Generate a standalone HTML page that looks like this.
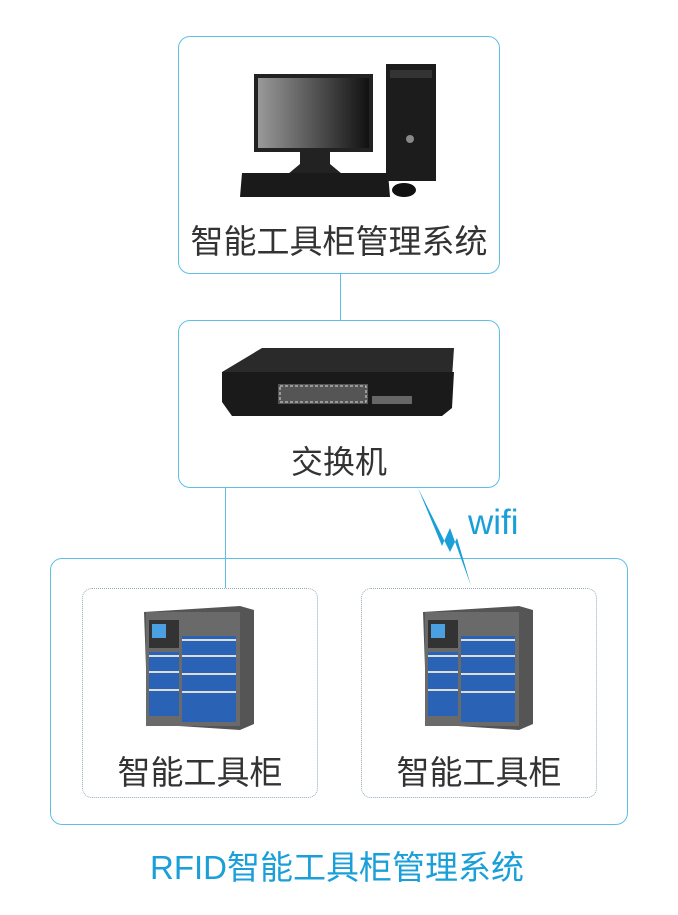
<!DOCTYPE html>
<html><head><meta charset="utf-8"><style>
body{margin:0;width:678px;height:915px;background:#fff;position:relative;overflow:hidden;font-family:"Liberation Sans","Noto Sans CJK SC",sans-serif}
.b{position:absolute;border:1px solid #5cc0e6;border-radius:12px;box-sizing:border-box}
.d{position:absolute;border:1px dotted #9ab;border-radius:10px;box-sizing:border-box}
.t{position:absolute;color:#333;text-align:center;white-space:nowrap}
.l{position:absolute;background:#5cc0e6}
</style></head><body>
<div class="b" style="left:178px;top:36px;width:322px;height:238px"></div>
<div class="l" style="left:340px;top:274px;width:1px;height:46px"></div>
<div class="b" style="left:178px;top:320px;width:322px;height:168px"></div>
<div class="l" style="left:225px;top:488px;width:1px;height:100px"></div>
<div class="b" style="left:50px;top:558px;width:578px;height:267px"></div>
<div class="d" style="left:82px;top:588px;width:236px;height:210px"></div>
<div class="d" style="left:361px;top:588px;width:236px;height:210px"></div>

<svg style="position:absolute;left:0;top:0" width="678" height="915">
<defs><linearGradient id="g" x1="0" x2="1"><stop offset="0" stop-color="#999"/><stop offset="1" stop-color="#111"/></linearGradient></defs>
<rect x="254" y="74" width="119" height="78" fill="#222"/>
<rect x="258" y="78" width="111" height="70" fill="url(#g)"/>
<path d="M300 152h30v12l12 10h-54l12-10z" fill="#222"/>
<path d="M242 173h146l2 24h-150z" fill="#1a1a1a"/>
<rect x="386" y="64" width="50" height="117" fill="#1c1c1c"/>
<rect x="390" y="70" width="42" height="8" fill="#333"/>
<circle cx="410" cy="139" r="4" fill="#888"/>
<ellipse cx="404" cy="190" rx="12" ry="7" fill="#111"/>
<!-- switch -->
<path d="M222 372l40-24h192l-2 30H222z" fill="#2a2a2a"/>
<path d="M222 372h232l-2 36-10 8H232l-10-14z" fill="#1a1a1a"/>
<rect x="278" y="384" width="90" height="20" fill="#555"/>
<rect x="280" y="386" width="86" height="16" fill="none" stroke="#ddd" stroke-dasharray="3 2"/>
<rect x="372" y="396" width="40" height="8" fill="#666"/>
<!-- lightning -->
<path d="M418 488l24 58 8-18 21 58-14-48-7 14z" fill="#1a9fd9"/>
<g id="c">
<path d="M144 612l96-6 14 4v114l-14 6-92-6z" fill="#555"/>
<rect x="146" y="612" width="94" height="114" fill="#6a6a6a"/>
<rect x="149" y="620" width="30" height="28" fill="#333"/>
<rect x="152" y="624" width="14" height="14" fill="#4aa0e0"/>
<rect x="149" y="652" width="30" height="64" fill="#2a62b6"/>
<rect x="182" y="636" width="54" height="86" fill="#2a62b6"/>
<g stroke="#ddd" stroke-width="2"><path d="M149 656h30M149 672h30M149 690h30M182 640h54M182 656h54M182 674h54M182 692h54"/></g>
</g>
<use href="#c" x="279"/>
</svg>

<div class="t" style="left:178px;width:322px;top:215px;font-size:33px">智能工具柜管理系统</div>
<div class="t" style="left:178px;width:322px;top:437px;font-size:32px">交换机</div>
<div class="t" style="left:82px;width:236px;top:746px;font-size:33px">智能工具柜</div>
<div class="t" style="left:361px;width:236px;top:746px;font-size:33px">智能工具柜</div>
<div class="t" style="left:468px;top:503px;font-size:35px;color:#1a9fd9">wifi</div>
<div class="t" style="left:0;width:674px;top:841px;font-size:33px;color:#1a9fd9">RFID智能工具柜管理系统</div>
</body></html>
